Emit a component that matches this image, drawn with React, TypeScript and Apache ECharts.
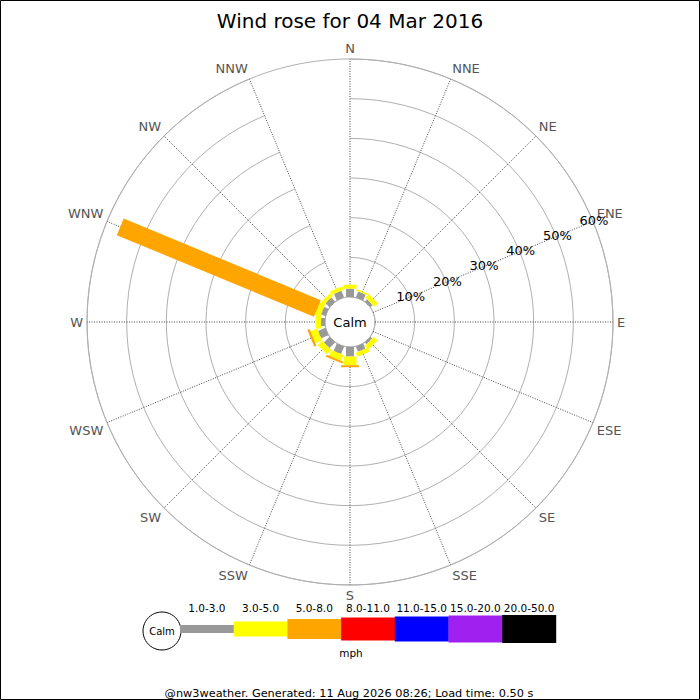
import React, { useEffect, useRef } from "react";
import * as echarts from "echarts";

const directions = ["N", "NNE", "NE", "ENE", "E", "ESE", "SE", "SSE", "S", "SSW", "SW", "WSW", "W", "WNW", "NW", "NNW"];
const band1to3 = [2.1, 1.6, 0.8, 0, 0, 0, 0.6, 1.4, 2.4, 2.0, 2.0, 2.0, 1.0, 1.2, 1.4, 1.8];
const band3to5 = [1.0, 0.4, 1.2, 0, 0, 0, 1.3, 1.1, 2.2, 1.6, 1.6, 1.8, 1.4, 1.4, 1.0, 1.0];
const band5to8 = [0, 0, 0, 0, 0, 0, 0, 0, 0.5, 0.5, 0, 0.6, 0, 53.8, 0, 0];
const plotBands = [band1to3, band3to5, band5to8];
const speedLabels = ["1.0-3.0", "3.0-5.0", "5.0-8.0", "8.0-11.0", "11.0-15.0", "15.0-20.0", "20.0-50.0"];
const speedColors = ["#999999", "#ffff00", "#ffa500", "#ff0000", "#0000ff", "#a020f0", "#000000"];
const radialTicks = [10, 20, 30, 40, 50, 60];
const radialMax = 60;

const FONT = "DejaVu Sans";
const barWidths = [8, 13, 18];
const legendHeights = [8, 15, 20, 23, 25, 27, 28];

export default function App() {
  const ref = useRef<HTMLDivElement>(null);
  useEffect(() => {
    document.body.style.margin = "0";
    const chart = echarts.init(ref.current!, null, { renderer: "svg" });

    const segs: number[][] = [];
    directions.forEach((_, i) => {
      let acc = 0;
      plotBands.forEach((band, b) => {
        const v = band[i];
        if (v > 0) {
          segs.push([i, acc, acc + v, b]);
          acc += v;
        }
      });
    });

    const legendGraphics: any[] = [];
    const lx0 = 180;
    const step = 53.7;
    const ly = 629;
    legendGraphics.push({
      type: "circle",
      shape: { cx: 162, cy: 631, r: 19 },
      style: { fill: "#fff", stroke: "#000", lineWidth: 1 },
    });
    legendGraphics.push({
      type: "text",
      x: 162,
      y: 631,
      style: { text: "Calm", fontSize: 10, fontFamily: FONT, fill: "#000", align: "center", verticalAlign: "middle" },
    });
    speedLabels.forEach((lab, i) => {
      const h = legendHeights[i];
      legendGraphics.push({
        type: "rect",
        shape: { x: lx0 + i * step, y: ly - h / 2, width: step + 0.3, height: h },
        style: { fill: speedColors[i] },
      });
      legendGraphics.push({
        type: "text",
        x: lx0 + i * step + step / 2,
        y: 607.5,
        style: { text: lab, fontSize: 10.5, fontFamily: FONT, fill: "#000", align: "center", verticalAlign: "middle" },
      });
    });

    chart.setOption({
      animation: false,
      backgroundColor: "#fff",
      title: {
        text: "Wind rose for 04 Mar 2016",
        left: "center",
        top: 6,
        textStyle: { fontSize: 20, fontWeight: "normal", fontFamily: FONT, color: "#000" },
      },
      polar: { center: [350, 322], radius: [25, 263] },
      radiusAxis: {
        type: "value",
        min: 0,
        max: radialMax,
        interval: 10,
        axisLine: { show: false },
        axisTick: { show: false },
        axisLabel: { show: false },
        splitLine: { show: true, lineStyle: { color: "#b0b0b0", width: 1, type: "solid" } },
      },
      angleAxis: {
        type: "category",
        data: directions,
        boundaryGap: false,
        startAngle: 90,
        clockwise: true,
        axisLine: { show: true, lineStyle: { color: "#b0b0b0", width: 1 } },
        axisTick: { show: false },
        axisLabel: { show: true, color: "#555555", fontSize: 13, fontFamily: FONT, margin: 4 },
        splitLine: { show: false },
      },
      series: [
        {
          type: "custom",
          coordinateSystem: "polar",
          data: directions.map((_, i) => [i]),
          encode: { angle: 0 },
          silent: true,
          z: 1,
          renderItem: (params: any, api: any) => {
            const i = api.value(0);
            const p0 = api.coord([0, i]);
            const p1 = api.coord([radialMax, i]);
            return {
              type: "line",
              shape: { x1: p0[0], y1: p0[1], x2: p1[0], y2: p1[1] },
              style: { stroke: "#444444", lineWidth: 1, lineDash: [1, 1.5] },
            };
          },
        },
        {
          type: "custom",
          coordinateSystem: "polar",
          data: segs,
          encode: { angle: 0, radius: 2 },
          silent: true,
          z: 2,
          renderItem: (params: any, api: any) => {
            const dir = api.value(0);
            const s = api.value(1);
            const e = api.value(2);
            const b = api.value(3);
            const p0 = api.coord([s, dir]);
            const p1 = api.coord([e, dir]);
            const dx = p1[0] - p0[0];
            const dy = p1[1] - p0[1];
            const len = Math.sqrt(dx * dx + dy * dy);
            if (len < 0.01) return null;
            const ux = dx / len;
            const uy = dy / len;
            const hw = barWidths[b] / 2;
            const nx = -uy * hw;
            const ny = ux * hw;
            return {
              type: "polygon",
              shape: {
                points: [
                  [p0[0] + nx, p0[1] + ny],
                  [p1[0] + nx, p1[1] + ny],
                  [p1[0] - nx, p1[1] - ny],
                  [p0[0] - nx, p0[1] - ny],
                ],
              },
              style: { fill: speedColors[b] },
            };
          },
        },
        {
          type: "custom",
          coordinateSystem: "polar",
          data: radialTicks.map((v) => [v, 3]),
          encode: { radius: 0, angle: 1 },
          silent: true,
          z: 5,
          renderItem: (params: any, api: any) => {
            const v = api.value(0);
            const p = api.coord([v, 3]);
            return {
              type: "text",
              x: p[0] + 1,
              y: p[1] - 1,
              style: {
                text: v + "%",
                fontSize: 13,
                fontFamily: FONT,
                fill: "#000",
                align: "center",
                verticalAlign: "middle",
              },
            };
          },
        },
      ],
      graphic: [
        {
          type: "text",
          x: 350,
          y: 322,
          z: 10,
          style: { text: "Calm", fontSize: 13, fontFamily: FONT, fill: "#000", align: "center", verticalAlign: "middle" },
        },
        ...legendGraphics,
        {
          type: "text",
          x: 351,
          y: 653,
          style: { text: "mph", fontSize: 10.5, fontFamily: FONT, fill: "#000", align: "center", verticalAlign: "middle" },
        },
        {
          type: "text",
          x: 349,
          y: 693,
          style: {
            text: "@nw3weather. Generated: 11 Aug 2026 08:26; Load time: 0.50 s",
            fontSize: 11.3,
            fontFamily: FONT,
            fill: "#000",
            align: "center",
            verticalAlign: "middle",
          },
        },
        {
          type: "rect",
          shape: { x: 0.5, y: 0.5, width: 699, height: 699 },
          style: { fill: "none", stroke: "#000", lineWidth: 1 },
          silent: true,
        },
      ],
    });
    return () => chart.dispose();
  }, []);
  return <div ref={ref} style={{ width: 700, height: 700 }} />;
}
